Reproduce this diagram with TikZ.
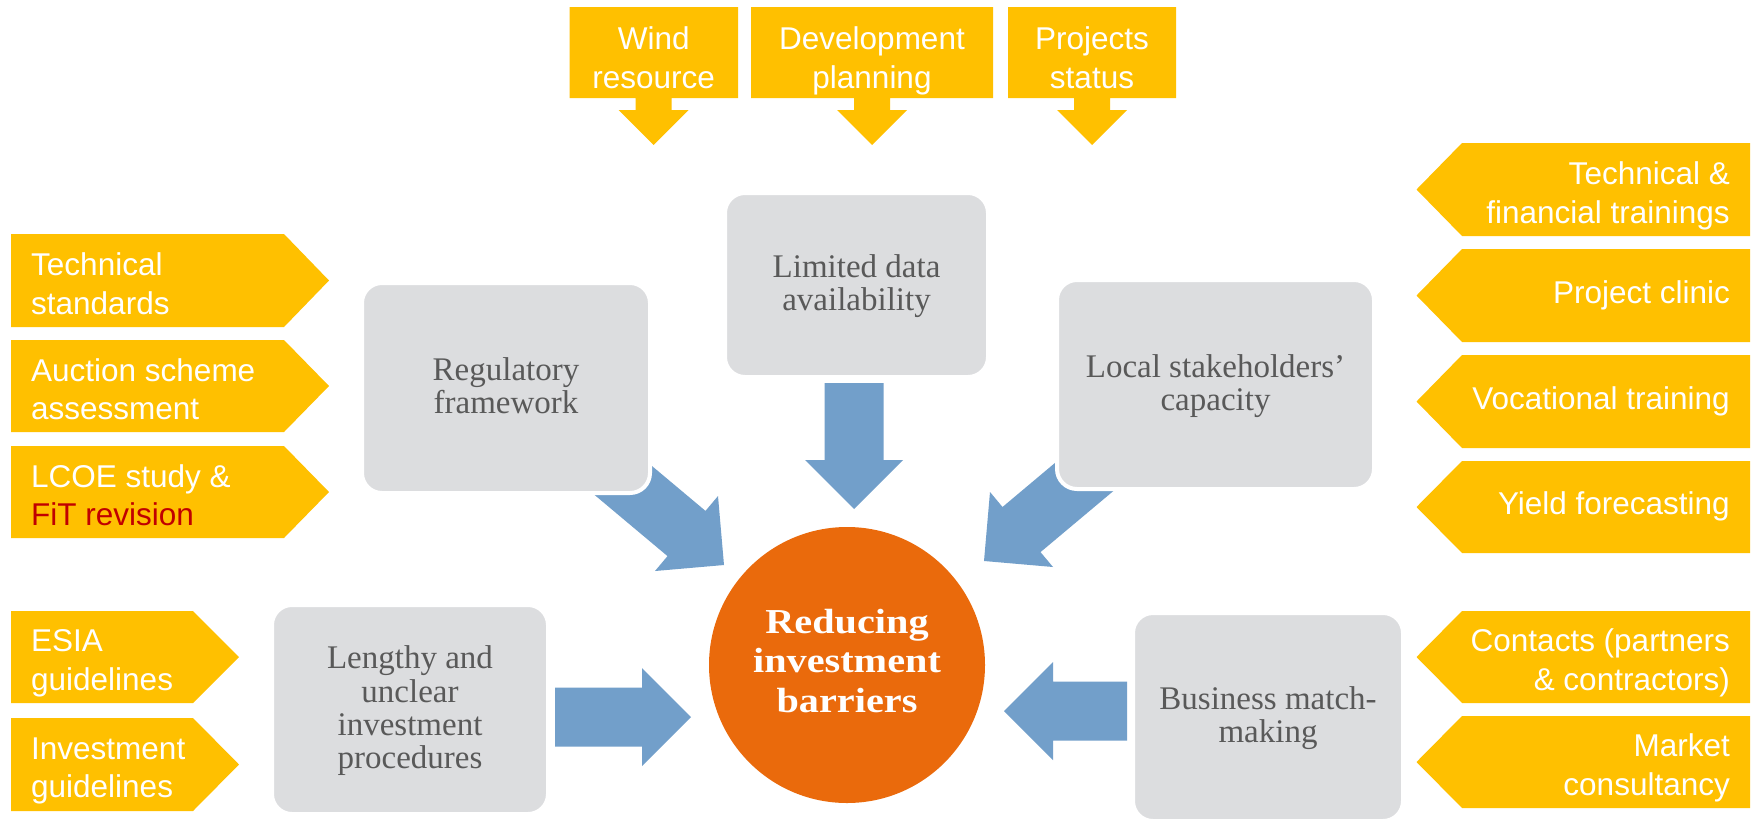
\documentclass[tikz,border=0pt]{standalone}
\usepackage{fontspec}
\setmainfont{Liberation Serif}
\newfontfamily\arialf{Liberation Sans}
\newfontfamily\goalserif[FakeStretch=1.15]{Liberation Serif}
\definecolor{ygold}{RGB}{255,192,0}
\definecolor{abblue}{RGB}{114,159,202}
\definecolor{boxgrey}{RGB}{220,221,223}
\definecolor{txtgrey}{RGB}{89,89,89}
\definecolor{goalorange}{RGB}{234,106,12}
\definecolor{fitred}{RGB}{192,0,0}
% first-line strut for the grey boxes (pushes the text block down a little)
\newcommand\firststrut{\rule{0pt}{28.3pt}\strut}
% top call-out: box x0..x1, centre cx
\newcommand\topcallout[3]{%
  \fill[chev] (#1,7) -- (#2,7) -- (#2,98) -- ({#3+18},98) -- ({#3+18},110) -- ({#3+35},110)
    -- (#3,145) -- ({#3-35},110) -- ({#3-18},110) -- ({#3-18},98) -- (#1,98) -- cycle;}
% chevron pointing right: x0, xr, xpoint, ytop, ybottom
\newcommand\chevright[5]{%
  \fill[chev] (#1,#4) -- (#2,#4) -- (#3,{(#4+#5)/2}) -- (#2,#5) -- (#1,#5) -- cycle;}
% chevron pointing left: xpoint, xl, x1, ytop, ybottom
\newcommand\chevleft[5]{%
  \fill[chev] (#3,#4) -- (#2,#4) -- (#1,{(#4+#5)/2}) -- (#2,#5) -- (#3,#5) -- cycle;}
\begin{document}
\begin{tikzpicture}[x=1pt,y=-1pt,
  chev/.style={fill=ygold},
  barrow/.style={fill=abblue},
  sanstext/.style={font=\arialf\fontsize{31.5}{38.5}\selectfont, text=white, inner sep=0pt},
  ltext/.style={sanstext, anchor=west, align=left},
  rtext/.style={sanstext, anchor=east, align=right},
  ctext/.style={sanstext, align=center},
  greybox/.style={fill=boxgrey, draw=white, line width=4pt, rounded corners=20pt, inner sep=0pt,
    font=\fontsize{33}{33.3}\selectfont, text=txtgrey, align=center},
  goal/.style={circle, fill=goalorange, inner sep=0pt, minimum size=276pt,
    font=\goalserif\bfseries\fontsize{35}{39.2}\selectfont, text=white, align=center}
]
\useasboundingbox (0,0) rectangle (1756,820);
\fill[white] (0,0) rectangle (1756,820);

% ---- top call-outs
\topcallout{569.5}{738}{653.7}
\topcallout{751}{993}{872}
\topcallout{1008}{1176}{1092}
\node[ctext] (wind) at (653.7,61.5) {\strut Wind\\\strut resource};
\node[ctext] (devplan) at (872,61.5) {\strut Development\\\strut planning};
\node[ctext] (projstat) at (1092,61.5) {\strut Projects\\\strut status};

% ---- left chevrons
\chevright{11}{284}{329}{234}{327}
\chevright{11}{284}{329}{340}{432}
\chevright{11}{284}{329}{446}{538}
\chevright{11}{193}{239}{611}{703}
\chevright{11}{193}{239}{718}{811}
\node[ltext] (techstd) at (31,287.5) {\strut Technical\\\strut standards};
\node[ltext] (auction) at (31,393) {\strut Auction scheme\\\strut assessment};
\node[ltext] (lcoe) at (31,499) {\strut LCOE study \&\\\strut\textcolor{fitred}{FiT revision}};
\node[ltext] (esia) at (31,663.5) {\strut ESIA\\\strut guidelines};
\node[ltext] (invguide) at (31,771) {\strut Investment\\\strut guidelines};

% ---- right chevrons
\chevleft{1416.5}{1462}{1750}{143}{236}
\chevleft{1416.5}{1462}{1750}{249}{342}
\chevleft{1416.5}{1462}{1750}{355}{448}
\chevleft{1416.5}{1462}{1750}{461}{553}
\chevleft{1416.5}{1462}{1750}{611}{703}
\chevleft{1416.5}{1462}{1750}{716}{808}
\node[rtext] (techfin) at (1730,196.5) {\strut Technical \&\\\strut financial trainings};
\node[rtext] (clinic) at (1730,295.5) {\strut Project clinic};
\node[rtext] (vocat) at (1730,401.5) {\strut Vocational training};
\node[rtext] (yield) at (1730,507) {\strut Yield forecasting};
\node[rtext] (contacts) at (1730,663.5) {\strut Contacts (partners\\\strut \& contractors)};
\node[rtext] (market) at (1730,768.5) {\strut Market\\\strut consultancy};

% ---- blue block arrows (behind the grey boxes)
\fill[barrow] (724,565) -- (718,496) -- (705.5,510.9) -- (621.2,440.2) -- (583.2,485.4)
  -- (667.5,556.1) -- (655,571) -- cycle;
\fill[barrow] (984,561) -- (990,492) -- (1002.5,507) -- (1086.8,436.2) -- (1124.8,481.4)
  -- (1040.5,552.1) -- (1053,567) -- cycle;
\fill[barrow] (854,509) -- (903,460) -- (883.5,460) -- (883.5,383) -- (824.5,383)
  -- (824.5,460) -- (805,460) -- cycle;
\fill[barrow] (691,717) -- (642,668) -- (642,687.5) -- (555,687.5) -- (555,746.5)
  -- (642,746.5) -- (642,766) -- cycle;
\fill[barrow] (1004,711) -- (1053,662) -- (1053,681.5) -- (1127,681.5) -- (1127,740.5)
  -- (1053,740.5) -- (1053,760) -- cycle;

% ---- grey barrier boxes
\node[greybox, minimum width=288pt, minimum height=210pt] (reg) at (506,388)
  {\firststrut Regulatory\\\strut framework};
\node[greybox, minimum width=263pt, minimum height=184pt] (data) at (856.5,285)
  {\firststrut Limited data\\\strut availability};
\node[greybox, minimum width=317pt, minimum height=209pt] (local) at (1215.5,384.5)
  {\firststrut Local stakeholders’\\\strut capacity};
\node[greybox, minimum width=276pt, minimum height=209pt] (lengthy) at (410,709.5)
  {\firststrut Lengthy and\\\strut unclear\\\strut investment\\\strut procedures};
\node[greybox, minimum width=270pt, minimum height=208pt] (bmm) at (1268,717)
  {\firststrut Business match-\\\strut making};

% ---- central goal
\node[goal] (goalc) at (847,665) {\strut Reducing\\\strut investment\\\strut barriers};
\end{tikzpicture}
\end{document}
